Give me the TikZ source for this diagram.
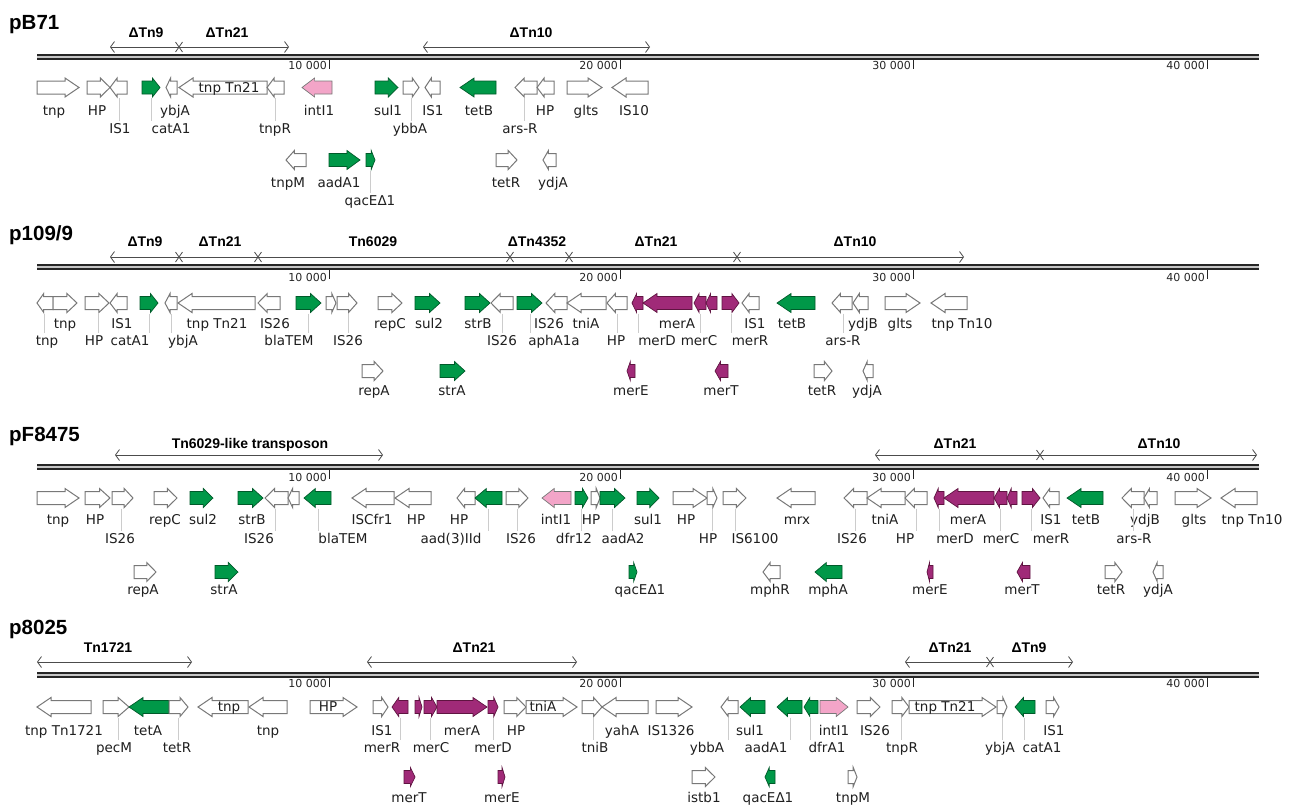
\documentclass[tikz,border=0pt]{standalone}
\usepackage{fontspec}
\setmainfont{DejaVu Sans}
\newfontfamily\hfont{Liberation Sans}
\usetikzlibrary{arrows.meta}
\definecolor{gr}{RGB}{0,152,72}
\definecolor{grd}{RGB}{0,90,42}
\definecolor{mg}{RGB}{160,42,120}
\definecolor{mgd}{RGB}{95,20,65}
\definecolor{pk}{RGB}{243,165,200}
\definecolor{wo}{RGB}{120,120,120}
\tikzset{
  gW/.style={draw=wo, fill=white, line width=1pt, line join=miter},
  gG/.style={draw=grd, fill=gr, line width=0.7pt, line join=miter},
  gM/.style={draw=mgd, fill=mg, line width=0.7pt, line join=miter},
  gP/.style={draw=wo, fill=pk, line width=0.7pt, line join=miter},
  lbl/.style={font=\fontsize{13.5}{15}\selectfont, anchor=base, inner sep=0pt, text=black!88},
  leader/.style={draw=gray!40, line width=0.6pt, shorten >=2pt},
  region/.style={draw=gray!60!black, line width=0.8pt},
  rarr/.style={arrows={Straight Barb[length=4pt,width=11pt]-Straight Barb[length=4pt,width=11pt]}},
  rlab/.style={font=\hfont\bfseries\fontsize{14}{16}\selectfont, anchor=base, inner sep=0pt},
  ttl/.style={font=\hfont\bfseries\fontsize{20.5}{24}\selectfont, anchor=base west, inner sep=0pt},
  tlab/.style={font=\fontsize{11}{12}\selectfont, anchor=base east, inner sep=0pt, text=black!85}
}
\newcommand{\gene}[5]{%
  \pgfmathsetmacro{\ghl}{min(14,0.42*(#2-#1))}%
  \if#4R%
    \draw[#5] (#1,#3-6.5) -- (#2-\ghl,#3-6.5) -- (#2-\ghl,#3-9.5) -- (#2,#3) -- (#2-\ghl,#3+9.5) -- (#2-\ghl,#3+6.5) -- (#1,#3+6.5) -- cycle;%
  \else
    \draw[#5] (#2,#3-6.5) -- (#1+\ghl,#3-6.5) -- (#1+\ghl,#3-9.5) -- (#1,#3) -- (#1+\ghl,#3+9.5) -- (#1+\ghl,#3+6.5) -- (#2,#3+6.5) -- cycle;%
  \fi}
\newcommand{\genes}[2]{\foreach \ga/\gb/\gd/\gs in {#2} {\gene{\ga}{\gb}{#1}{\gd}{\gs}}}
\newcommand{\labs}[2]{\foreach \nm/\lxx/\tx in {#2} {\node[lbl] (\nm) at (\lxx,#1) {\tx};}}
\newcommand{\labsl}[3]{\foreach \nm/\lxx/\tx/\ldx in {#3} {%
  \node[lbl] (\nm) at (\lxx,#1) {\tx};
  \coordinate (\nm-g) at (\ldx,#2);
  \draw[leader] (\nm-g) -- (\nm-g |- \nm.north);}}
\newcommand{\backbone}[2]{%
  \draw[line width=6pt, black!85] (37,#1) -- (1259,#1);
  \draw[line width=1.3pt, gray!45] (37,#1) -- (1259,#1);
  \foreach \tkx/\tkt in {329/10 000,620/20 000,913/30 000,1207/40 000} {%
    \draw[line width=1pt, black!85] (\tkx,#1+3) -- (\tkx,#1+12);
    \node[tlab] (tk-#1-\tkx) at (\tkx-2,#2) {\tkt};}}
\newcommand{\region}[4]{%
  \coordinate (#1-s) at (#2,#4); \coordinate (#1-e) at (#3,#4);
  \draw[region,rarr] (#1-s) -- (#1-e);}
\newcommand{\rcross}[2]{\draw[region] (#1-3.5,#2-5) -- (#1+3.5,#2+5) (#1-3.5,#2+5) -- (#1+3.5,#2-5);}
\begin{document}
\begin{tikzpicture}[x=1pt,y=-1pt]
\fill[white] (0,0) rectangle (1295,806);
\useasboundingbox (0,0) rectangle (1295,806);

% ================= Panel 1: pB71 =================
\node[ttl] (t1) at (9,29) {pB71};
\region{s1a}{110}{289}{47} \rcross{179}{47}
\region{s1b}{423}{650}{47}
\node[rlab] (h1a) at (146,37) {ΔTn9};
\node[rlab] (h1b) at (227,37) {ΔTn21};
\node[rlab] (h1c) at (531,37) {ΔTn10};
\backbone{57}{69}
\genes{87.5}{37/79/R/gW, 87/110/R/gW, 110/127/L/gW, 142/160/R/gG, 166/177/L/gW, 179/267/L/gW, 267/284/L/gW, 302/332/L/gP, 375/398/R/gG, 403/419/R/gW, 425/440/L/gW, 460/496/L/gG, 515/537/L/gW, 537/554/L/gW, 567/602/R/gW, 612/648/L/gW}
\node[lbl] (i1a) at (229,92) {tnp Tn21};
\labs{115}{p1a1/54/tnp, p1a2/97/HP, p1a3/175/ybjA, p1a4/319/intI1, p1a5/388/sul1, p1a6/433/IS1, p1a7/479/tetB, p1a8/545/HP, p1a9/586/glts, p1a10/634/IS10}
\labsl{133}{98}{p1b1/120/IS1/119, p1b2/171/catA1/151, p1b3/275/tnpR/275, p1b4/410/ybbA/411, p1b5/520/ars-R/524}
\genes{160}{286/306/L/gW, 329/360/R/gG, 366/375/R/gG, 496/517/R/gW, 543/556/L/gW}
\labs{187}{p1c1/288/tnpM, p1c2/339/aadA1, p1c3/506/tetR, p1c4/553/ydjA}
\labsl{205}{170.5}{p1d1/370/qacEΔ1/370}

% ================= Panel 2: p109/9 =================
\node[ttl] (t2) at (9,240) {p109/9};
\region{s2a}{110}{964}{257}
\rcross{179}{257} \rcross{258}{257} \rcross{510}{257} \rcross{569}{257} \rcross{737}{257}
\node[rlab] (h2a) at (145,246) {ΔTn9};
\node[rlab] (h2b) at (220,246) {ΔTn21};
\node[rlab] (h2c) at (373,246) {Tn6029};
\node[rlab] (h2d) at (537,246) {ΔTn4352};
\node[rlab] (h2e) at (656,246) {ΔTn21};
\node[rlab] (h2f) at (855,246) {ΔTn10};
\backbone{267}{281}
\genes{303}{37/53/L/gW, 53/77/R/gW, 85/109/R/gW, 110/127/L/gW, 140/158/R/gG, 165/177/L/gW, 178/255/L/gW, 258/280/L/gW, 296/321/R/gG, 326/336/R/gW, 337/357/R/gW, 378/402/R/gW, 415/440/R/gG, 465/490/R/gG, 491/513/L/gW, 517/542/R/gG, 546/567/L/gW, 567/606/L/gW, 607/627/L/gW, 632/643/L/gM, 643/692/L/gM, 694/706/L/gM, 706/717/L/gM, 722/739/R/gM, 742/759/L/gW, 777/815/L/gG, 832/852/L/gW, 853/868/L/gW, 885/920/R/gW, 931/967/L/gW}
\labs{328}{p2a1/65/tnp, p2a2/122/IS1, p2a3/217/tnp Tn21, p2a4/275/IS26, p2a5/390/repC, p2a6/429/sul2, p2a7/478/strB, p2a8/549/IS26, p2a9/586/tniA, p2a10/677/merA, p2a11/755/IS1, p2a12/792/tetB, p2a13/863/ydjB, p2a14/900/glts, p2a15/962/tnp Tn10}
\labsl{345}{313.5}{p2b1/47/tnp/44, p2b2/94/HP/98, p2b3/130/catA1/149, p2b4/183/ybjA/171, p2b5/289/blaTEM/308, p2b6/348/IS26/348, p2b7/502/IS26/502, p2b8/554/aphA1a/530, p2b9/616/HP/617, p2b10/657/merD/638, p2b11/699/merC/700, p2b12/750/merR/731, p2b13/843/ars-R/843}
\genes{371}{362/383/R/gW, 440/465/R/gG, 627/635/L/gM, 715/728/L/gM, 814/832/R/gW, 863/873/L/gW}
\labs{395}{p2c1/374/repA, p2c2/452/strA, p2c3/631/merE, p2c4/721/merT, p2c5/822/tetR, p2c6/867/ydjA}

% ================= Panel 3: pF8475 =================
\node[ttl] (t3) at (9,441) {pF8475};
\region{s3a}{115}{383}{455}
\region{s3b}{875}{1257}{455} \rcross{1040}{455}
\node[rlab] (h3a) at (250,448) {Tn6029-like transposon};
\node[rlab] (h3b) at (955,448) {ΔTn21};
\node[rlab] (h3c) at (1159,448) {ΔTn10};
\backbone{467}{481}
\genes{498}{37/79/R/gW, 85/110/R/gW, 112/133/R/gW, 154/177/R/gW, 190/213/R/gG, 238/263/R/gG, 265/288/L/gW, 288/299/L/gW, 304/331/L/gG, 352/394/L/gW, 395/431/L/gW, 457/475/L/gW, 475/502/L/gG, 506/528/R/gW, 542/571/L/gP, 575/588/R/gG, 591/600/R/gW, 600/625/R/gG, 637/659/R/gG, 673/707/R/gW, 707/717/R/gW, 723/746/R/gW, 777/815/L/gW, 844/867/L/gW, 867/905/L/gW, 905/927/L/gW, 934/944/L/gM, 944/994/L/gM, 994/1007/L/gM, 1007/1017/L/gM, 1022/1040/R/gM, 1043/1059/L/gW, 1067/1103/L/gG, 1122/1144/L/gW, 1144/1157/L/gW, 1175/1211/R/gW, 1221/1257/L/gW}
\labs{524}{p3a1/58/tnp, p3a2/95/HP, p3a3/165/repC, p3a4/203/sul2, p3a5/252/strB, p3a6/372/ISCfr1, p3a7/416/HP, p3a8/459/HP, p3a9/556/intI1, p3a10/591/HP, p3a11/648/sul1, p3a12/686/HP, p3a13/797/mrx, p3a14/885/tniA, p3a15/968/merA, p3a16/1051/IS1, p3a17/1086/tetB, p3a18/1145/ydjB, p3a19/1194/glts, p3a20/1252/tnp Tn10}
\labsl{543}{508.5}{p3b1/120/IS26/121, p3b2/259/IS26/275, p3b3/343/blaTEM/318, p3b4/451/aad(3)IId/488, p3b5/521/IS26/517, p3b6/574/dfr12/581, p3b7/623/aadA2/612, p3b8/708/HP/712, p3b9/755/IS6100/735, p3b10/852/IS26/855, p3b11/905/HP/916, p3b12/955/merD/939, p3b13/1001/merC/1000, p3b14/1051/merR/1031, p3b15/1134/ars-R/1133}
\genes{572}{134/156/R/gW, 215/238/R/gG, 629/637/R/gG, 763/780/L/gW, 815/842/L/gG, 927/933/L/gM, 1017/1030/L/gM, 1105/1122/R/gW, 1153/1163/L/gW}
\labs{594}{p3c1/143/repA, p3c2/224/strA, p3c3/640/qacEΔ1, p3c4/770/mphR, p3c5/828/mphA, p3c6/930/merE, p3c7/1022/merT, p3c8/1111/tetR, p3c9/1158/ydjA}

% ================= Panel 4: p8025 =================
\node[ttl] (t4) at (9,634) {p8025};
\region{s4a}{37}{192}{662}
\region{s4b}{367}{577}{662}
\region{s4c}{905}{1073}{662} \rcross{990}{662}
\node[rlab] (h4a) at (108,652) {Tn1721};
\node[rlab] (h4b) at (474,652) {ΔTn21};
\node[rlab] (h4c) at (950,652) {ΔTn21};
\node[rlab] (h4d) at (1029,652) {ΔTn9};
\backbone{675}{687}
\genes{707}{37/91/L/gW, 103/129/R/gW, 129/169/L/gG, 169/188/R/gW, 198/248/L/gW, 249/287/L/gW, 310/357/R/gW, 373/388/R/gW, 392/408/L/gM, 415/422/R/gM, 424/437/R/gM, 437/487/R/gM, 488/498/R/gM, 504/526/R/gW, 526/577/R/gW, 582/602/R/gW, 602/648/L/gW, 656/692/R/gW, 721/738/L/gW, 740/765/L/gG, 777/802/L/gG, 804/818/L/gG, 820/848/R/gP, 857/880/R/gW, 892/909/R/gW, 909/996/R/gW, 997/1007/R/gW, 1015/1035/L/gG, 1046/1059/R/gW}
\node[lbl] (i4a) at (229,711.5) {tnp};
\node[lbl] (i4b) at (328,711.5) {HP};
\node[lbl] (i4c) at (543,711.5) {tniA};
\node[lbl] (i4d) at (945,711.5) {tnp Tn21};
\labs{735}{p4a1/64/tnp Tn1721, p4a2/148/tetA, p4a3/268/tnp, p4a4/382/IS1, p4a5/462/merA, p4a6/516/HP, p4a7/622/yahA, p4a8/671/IS1326, p4a9/750/sul1, p4a10/834/intI1, p4a11/875/IS26, p4a12/1054/IS1}
\labsl{752}{717.5}{p4b1/114/pecM/118, p4b2/177/tetR/178, p4b3/382/merR/400, p4b4/431/merC/430, p4b5/493/merD/493, p4b6/595/tniB/593, p4b7/707/ybbA/728, p4b8/766/aadA1/790, p4b9/827/dfrA1/810, p4b10/902/tnpR/901, p4b11/1000/ybjA/1002, p4b12/1042/catA1/1024}
\genes{777}{404/415/R/gM, 498/505/R/gM, 692/715/R/gW, 765/775/L/gG, 848/857/R/gW}
\labs{802}{p4c1/409/merT, p4c2/502/merE, p4c3/704/istb1, p4c4/768/qacEΔ1, p4c5/853/tnpM}
\end{tikzpicture}
\end{document}
